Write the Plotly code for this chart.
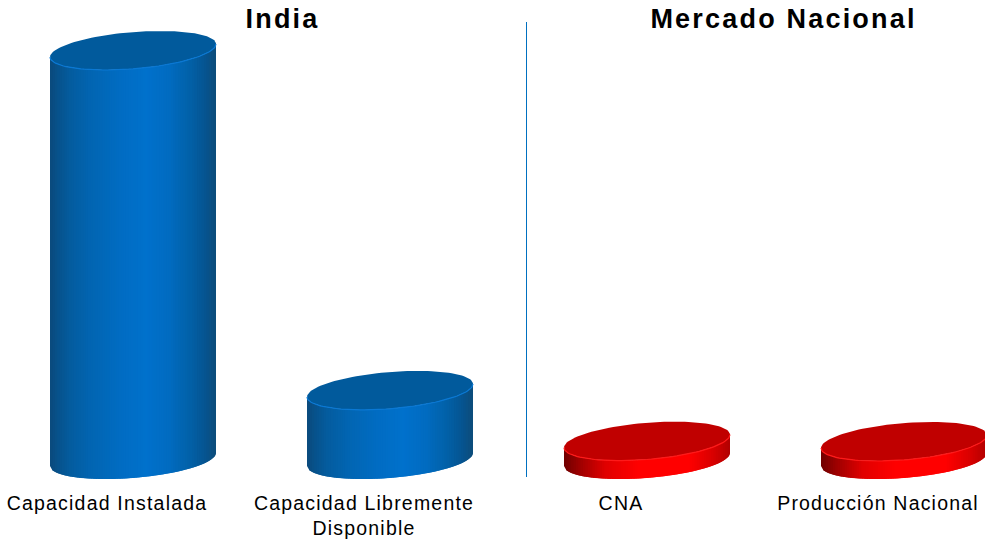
import plotly.graph_objects as go
import numpy as np

categories = ["Capacidad Instalada", "Capacidad Libremente<br>Disponible", "CNA", "Producción Nacional"]
values = [100.0, 16.9, 4.5, 4.4]
groups = ["India", "India", "Mercado Nacional", "Mercado Nacional"]
group_titles = ["India", "Mercado Nacional"]

W, H = 985, 539
PLOT_B = 490
BASE_PX = 459.5
PX_PER_UNIT = 4.09
STEP_PX = 257.0
FIRST_PX = 133.0
HALF_W = 83.0 / STEP_PX          # cylinder half width, in category units
ELL_B = 18.4 / PX_PER_UNIT       # ellipse semi-minor, in value units
ELL_K = 6.5 / PX_PER_UNIT        # ellipse tilt, in value units

STYLE = {
    "India": dict(
        stops=[(0, "#0b4a7c"), (0.05, "#07528c"), (0.12, "#045c9e"), (0.25, "#0265b2"),
               (0.42, "#016cc2"), (0.58, "#0071cc"), (0.72, "#016bc0"), (0.84, "#0261a8"),
               (0.93, "#055592"), (1, "#0d4c7a")],
        top="#015a9c", rim="#0a78d4"),
    "Mercado Nacional": dict(
        stops=[(0, "#700000"), (0.1, "#a00000"), (0.25, "#e00000"), (0.45, "#ff0000"),
               (0.75, "#ff0000"), (0.9, "#d80000"), (1, "#b00000")],
        top="#c00000", rim="#ff1a1a"),
}


def mix(stops, f):
    for (a, ca), (b, cb) in zip(stops, stops[1:]):
        if f <= b:
            u = (f - a) / (b - a)
            c0 = [int(ca[i:i + 2], 16) for i in (1, 3, 5)]
            c1 = [int(cb[i:i + 2], 16) for i in (1, 3, 5)]
            return "rgb(%d,%d,%d)" % tuple(round(p + (q - p) * u) for p, q in zip(c0, c1))
    return stops[-1][1]


def edge(t):
    # ellipse relative to its centre: x offset, y offset
    return HALF_W * np.cos(t), -ELL_B * np.sin(t) + ELL_K * np.cos(t)


fig = go.Figure()
N = 70
for i, (val, grp) in enumerate(zip(values, groups)):
    st = STYLE[grp]
    # side wall: overlapping narrow strips, painted left to right, for the shading
    xs_edge = np.linspace(-HALF_W, HALF_W, N + 1)
    for j in range(N):
        x0 = xs_edge[j]
        x1 = xs_edge[min(j + 2, N)]
        xm = np.linspace(x0, x1, 5)
        ts = np.arccos(np.clip(xm / HALF_W, -1, 1))
        _, dy = edge(ts)
        col = mix(st["stops"], (j + 0.5) / N)
        fig.add_trace(go.Scatter(
            x=np.concatenate([i + xm, i + xm[::-1], [i + xm[0]]]),
            y=np.concatenate([dy, val + dy[::-1], [dy[0]]]),
            mode="lines", fill="toself", fillcolor=col,
            line=dict(color=col, width=0),
            hoverinfo="skip", showlegend=False))
    # top ellipse
    t = np.linspace(0, 2 * np.pi, 121)
    ex, ey = edge(t)
    fig.add_trace(go.Scatter(
        x=i + ex, y=val + ey, mode="lines", fill="toself",
        fillcolor=st["top"], line=dict(color=st["top"], width=0),
        hoverinfo="skip", showlegend=False, name=categories[i]))
    # bright rim along the front of the top ellipse
    t = np.linspace(0, np.pi, 61)
    ex, ey = edge(t)
    fig.add_trace(go.Scatter(
        x=i + ex, y=val + ey, mode="lines",
        line=dict(color=st["rim"], width=1.2),
        hoverinfo="skip", showlegend=False))

# axis ranges: one category = STEP_PX, one value unit = PX_PER_UNIT
x_range = [-FIRST_PX / STEP_PX, (W - FIRST_PX) / STEP_PX]
y_range = [-(PLOT_B - BASE_PX) / PX_PER_UNIT, BASE_PX / PX_PER_UNIT]

FONT = "Liberation Sans, Arial, sans-serif"
DIV_X = (526.5 - FIRST_PX) / STEP_PX
TITLE_X = [(283 - FIRST_PX) / STEP_PX, (783.5 - FIRST_PX) / STEP_PX]

fig.update_layout(
    width=W, height=H, margin=dict(l=0, r=0, t=0, b=H - PLOT_B),
    paper_bgcolor="white", plot_bgcolor="white", showlegend=False,
    font=dict(family=FONT, color="#000000"),
    xaxis=dict(range=x_range, tickmode="array", tickvals=list(range(4)), ticktext=categories,
               showgrid=False, zeroline=False, showline=False, ticks="", fixedrange=True,
               tickangle=0, automargin=False, ticklabelshift=-26, ticklabelstandoff=-1,
               tickfont=dict(size=19.5, family=FONT, color="#000000")),
    yaxis=dict(range=y_range, visible=False, fixedrange=True),
    shapes=[dict(type="line", xref="x", yref="paper", x0=DIV_X, x1=DIV_X,
                 y0=(PLOT_B - 477) / PLOT_B, y1=(PLOT_B - 22) / PLOT_B,
                 line=dict(color="#0070c0", width=1))],
    annotations=[
        dict(text="<b>%s</b>" % title, x=tx, y=1.0, xref="x", yref="paper",
             xanchor="center", yanchor="middle", yshift=-19, showarrow=False,
             font=dict(size=27, family=FONT, color="#000000"))
        for title, tx in zip(group_titles, TITLE_X)
    ],
)

POST = """
document.body.style.margin = '0';
var s = document.createElement('style');
s.textContent = '.xtick text{letter-spacing:1.2px} .annotation-text{letter-spacing:2.2px}';
document.head.appendChild(s);
"""
fig.write_html("out.html", config=dict(displayModeBar=False), post_script=POST)
